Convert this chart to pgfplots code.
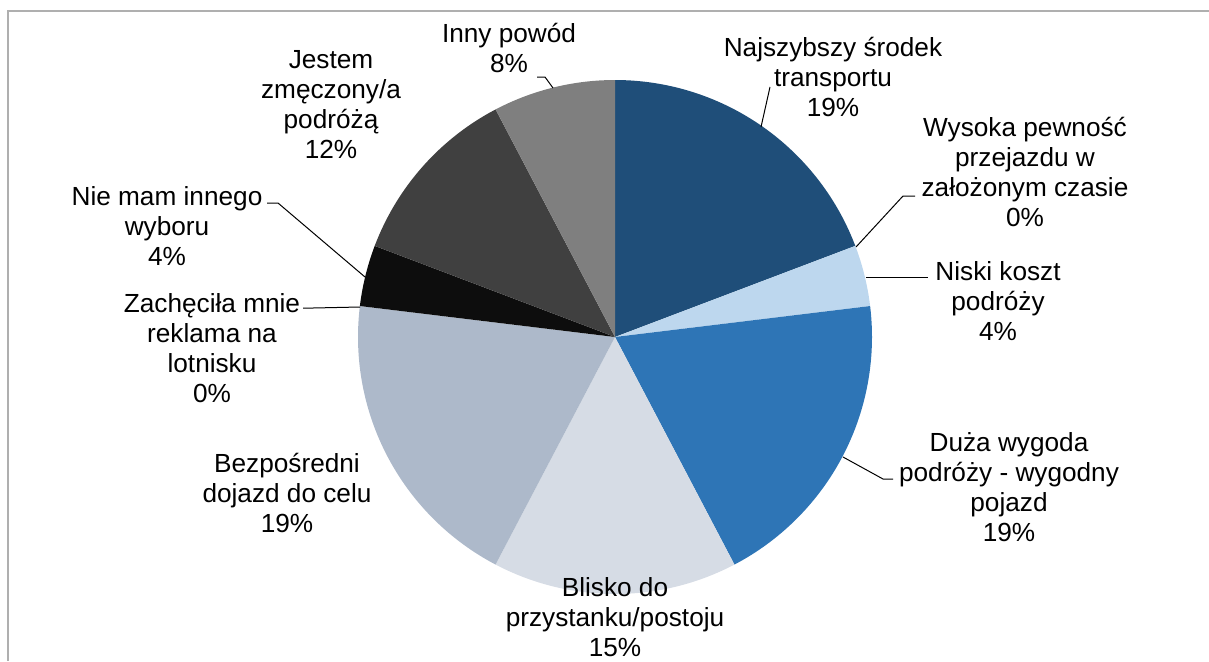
\documentclass[border=0pt]{standalone}
\usepackage{fontspec}
\setmainfont{Liberation Sans}
\usepackage{pgfplots}
\pgfplotsset{compat=1.18}
\definecolor{cA}{HTML}{1F4E79}
\definecolor{cB}{HTML}{BDD7EE}
\definecolor{cC}{HTML}{2E75B6}
\definecolor{cD}{HTML}{D6DCE5}
\definecolor{cE}{HTML}{ADB9CA}
\definecolor{cF}{HTML}{0D0D0D}
\definecolor{cG}{HTML}{404040}
\definecolor{cH}{HTML}{7F7F7F}
\definecolor{framegray}{HTML}{AFAFAF}
% counts (26 answers): start (cumulative), count, colour
\newcommand\slice[3]{%
  \pgfmathsetmacro\sa{90-360*#1/26}%
  \pgfmathsetmacro\sb{90-360*(#1+#2)/26}%
  \edef\doslice{\noexpand\addplot[fill=#3, draw=none, domain=\sb:\sa, samples=90]}%
  \doslice ({615+257*cos(x)},{324+257*sin(x)}) -- (axis cs:615,324) -- cycle;
}
\tikzset{lbl/.style={align=center, inner sep=0pt, font=\fontsize{13.1}{15}\selectfont}}
\begin{document}
\begin{tikzpicture}
\useasboundingbox (0,0) rectangle (604.5pt,330.5pt);
\begin{axis}[at={(0,0)}, anchor=south west, scale only axis,
  width=604.5pt, height=330.5pt,
  xmin=0, xmax=1209, ymin=0, ymax=661, hide axis, clip=false]
% Najszybszy 5, Wysoka 0, Niski 1, Duza 5, Blisko 4, Bezposredni 5, Zachecila 0, Nie mam 1, Jestem 3, Inny 2
\slice{0}{5}{cA}
\slice{5}{1}{cB}
\slice{6}{5}{cC}
\slice{11}{4}{cD}
\slice{15}{5}{cE}
\slice{20}{1}{cF}
\slice{21}{3}{cG}
\slice{24}{2}{cH}
% frame
\draw[color=framegray, line width=1pt] (axis cs:7.7,0) -- (axis cs:7.7,650) -- (axis cs:1209,650);
% leader lines
\draw[line width=0.5pt] (axis cs:770,574) -- (axis cs:761,534);
\draw[line width=0.5pt] (axis cs:856,414) -- (axis cs:903,465) -- (axis cs:915,465);
\draw[line width=0.5pt] (axis cs:866,384) -- (axis cs:928,384);
\draw[line width=0.5pt] (axis cs:843,204) -- (axis cs:883,182) -- (axis cs:893,182);
\draw[line width=0.5pt] (axis cs:267,458) -- (axis cs:278,458) -- (axis cs:365,384);
\draw[line width=0.5pt] (axis cs:303,353) -- (axis cs:313,353) -- (axis cs:360,354);
\draw[line width=0.5pt] (axis cs:537,584) -- (axis cs:545,584) -- (axis cs:553,573);
% labels
\node[lbl] at (axis cs:833,584.5) {Najszybszy środek\\transportu\\19\%};
\node[lbl] at (axis cs:1025,489) {Wysoka pewność\\przejazdu w\\założonym czasie\\0\%};
\node[lbl] at (axis cs:998,360) {Niski koszt\\podróży\\4\%};
\node[lbl] at (axis cs:1009,174) {Duża wygoda\\podróży - wygodny\\pojazd\\19\%};
\node[lbl] at (axis cs:615,44) {Blisko do\\przystanku/postoju\\15\%};
\node[lbl] at (axis cs:287,168) {Bezpośredni\\dojazd do celu\\19\%};
\node[lbl] at (axis cs:212,313) {Zachęciła mnie\\reklama na\\lotnisku\\0\%};
\node[lbl] at (axis cs:167,434.5) {Nie mam innego\\wyboru\\4\%};
\node[lbl] at (axis cs:331,556) {Jestem\\zmęczony/a\\podróżą\\12\%};
\node[lbl] at (axis cs:509,613) {Inny powód\\8\%};
\end{axis}
\end{tikzpicture}
\end{document}
